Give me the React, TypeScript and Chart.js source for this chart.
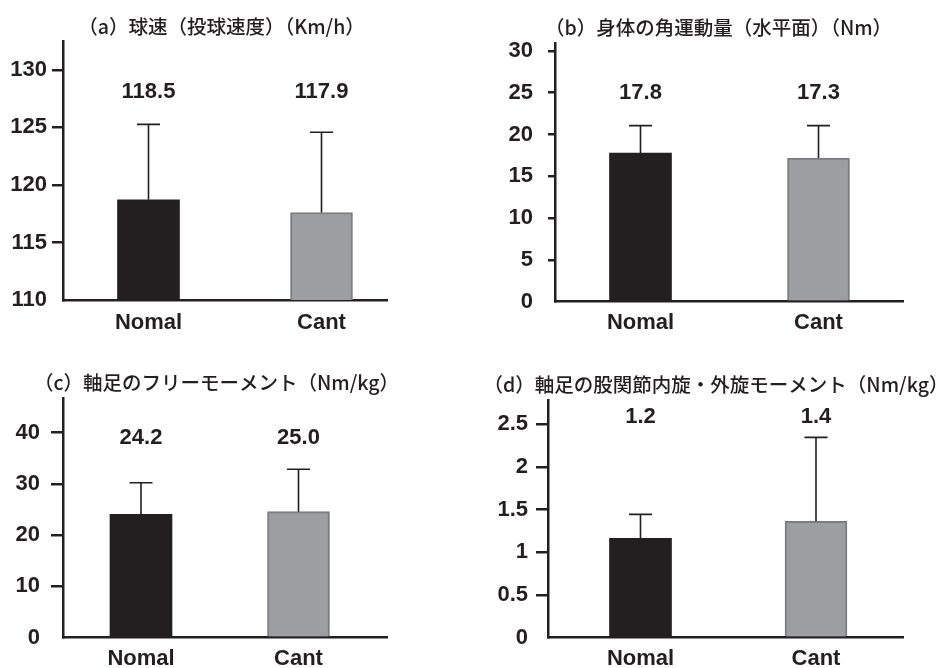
import React, { useEffect, useRef } from 'react';
import { Chart, registerables } from 'chart.js';

Chart.register(...registerables);

// ---------- data ----------
const categories = ['Nomal', 'Cant'];
const categoryPositions = [1, 2];

const speedTitle = '（a）球速（投球速度）（Km/h）';
const speedMeans = [118.7, 117.6];
const speedSD = [6.56, 6.97];
const speedLabels = ['118.5', '117.9'];
const speedTicks = [110, 115, 120, 125, 130];
const speedTickLabels = ['110', '115', '120', '125', '130'];

const momentumTitle = '（b）身体の角運動量（水平面）（Nm）';
const momentumMeans = [17.78, 17.18];
const momentumSD = [3.27, 3.87];
const momentumLabels = ['17.8', '17.3'];
const momentumTicks = [0, 5, 10, 15, 20, 25, 30];
const momentumTickLabels = ['0', '5', '10', '15', '20', '25', '30'];

const freeTitle = '（c）軸足のフリーモーメント（Nm/kg）';
const freeMeans = [24.07, 24.58];
const freeSD = [6.17, 8.27];
const freeLabels = ['24.2', '25.0'];
const freeTicks = [0, 10, 20, 30, 40];
const freeTickLabels = ['0', '10', '20', '30', '40'];

const hipTitle = '（d）軸足の股関節内旋・外旋モーメント（Nm/kg）';
const hipMeans = [1.164, 1.364];
const hipSD = [0.281, 0.983];
const hipLabels = ['1.2', '1.4'];
const hipTicks = [0, 0.5, 1, 1.5, 2, 2.5];
const hipTickLabels = ['0', '0.5', '1', '1.5', '2', '2.5'];

// ---------- styles ----------
const INK = '#231f20';
const barFills = ['#231f20', '#9d9ea2'];
const barEdges = ['#231f20', '#7c7d81'];
const barEdgeWidths = [0, 2];
const NUM_FONT = '"Liberation Sans", Arial, sans-serif';
const TITLE_FONT = '"Noto Sans CJK JP", "Noto Sans", sans-serif';

type Panel = {
  key: string;
  title: string;
  means: number[];
  sd: number[];
  labels: string[];
  ticks: number[];
  tickLabels: string[];
  yMin: number;
  yMax: number;
  xMin: number;
  xMax: number;
  box: { left: number; top: number; width: number; height: number };
  padTop: number;
  padRight: number;
  yAxisWidth: number;
  xAxisHeight: number;
  tickLength: number;
  tickPad: number;
  xLabelPad: number;
  labelDy: number;
  titleDx: number;
  titleDy: number;
};

const panels: Panel[] = [
  {
    key: 'a', title: speedTitle, means: speedMeans, sd: speedSD, labels: speedLabels,
    ticks: speedTicks, tickLabels: speedTickLabels, yMin: 110, yMax: 132.5,
    xMin: 0.5058, xMax: 2.3786,
    box: { left: 0, top: 0, width: 468, height: 345 },
    padTop: 41, padRight: 81, yAxisWidth: 63, xAxisHeight: 45,
    tickLength: 11, tickPad: 5, xLabelPad: 1.5, labelDy: 51, titleDx: -3.5, titleDy: -14,
  },
  {
    key: 'b', title: momentumTitle, means: momentumMeans, sd: momentumSD, labels: momentumLabels,
    ticks: momentumTicks, tickLabels: momentumTickLabels, yMin: 0, yMax: 30.9,
    xMin: 0.5197, xMax: 2.4747,
    box: { left: 468, top: 0, width: 469, height: 345 },
    padTop: 43.3, padRight: 34, yAxisWidth: 87, xAxisHeight: 43.3,
    tickLength: 7, tickPad: 15, xLabelPad: 0.5, labelDy: 50, titleDx: -10.5, titleDy: -16,
  },
  {
    key: 'c', title: freeTitle, means: freeMeans, sd: freeSD, labels: freeLabels,
    ticks: freeTicks, tickLabels: freeTickLabels, yMin: 0, yMax: 46.7,
    xMin: 0.5048, xMax: 2.5619,
    box: { left: 0, top: 345, width: 468, height: 323 },
    padTop: 53.3, padRight: 81, yAxisWidth: 63, xAxisHeight: 30.3,
    tickLength: 12, tickPad: 11, xLabelPad: 0.5, labelDy: 40, titleDx: -8.5, titleDy: -15.3,
  },
  {
    key: 'd', title: hipTitle, means: hipMeans, sd: hipSD, labels: hipLabels,
    ticks: hipTicks, tickLabels: hipTickLabels, yMin: 0, yMax: 2.776,
    xMin: 0.473, xMax: 2.4957,
    box: { left: 468, top: 345, width: 469, height: 323 },
    padTop: 55.7, padRight: 34, yAxisWidth: 80, xAxisHeight: 30.3,
    tickLength: 12, tickPad: 8, xLabelPad: 0.5, labelDy: 16, titleDx: -9.5, titleDy: -15.7,
  },
];

const annotatePlugin = {
  id: 'annotate',
  afterDatasetsDraw(chart: any, _args: any, opts: any) {
    const { ctx, chartArea } = chart;
    const yScale = chart.scales.y;
    const meta = chart.getDatasetMeta(0);
    ctx.save();
    ctx.strokeStyle = INK;
    ctx.lineWidth = 1.6;
    ctx.fillStyle = INK;
    ctx.textAlign = 'center';
    ctx.textBaseline = 'middle';
    ctx.font = `bold 22px ${NUM_FONT}`;
    meta.data.forEach((bar: any, i: number) => {
      const top = yScale.getPixelForValue(opts.means[i] + opts.sd[i]);
      ctx.beginPath();
      ctx.moveTo(bar.x, bar.y);
      ctx.lineTo(bar.x, top);
      ctx.moveTo(bar.x - 11.5, top);
      ctx.lineTo(bar.x + 11.5, top);
      ctx.stroke();
      ctx.fillText(opts.labels[i], bar.x, chartArea.top + opts.labelDy);
    });
    ctx.font = `500 19.5px ${TITLE_FONT}`;
    ctx.fillText(
      opts.title,
      (chartArea.left + chartArea.right) / 2 + opts.titleDx,
      chartArea.top + opts.titleDy
    );
    ctx.restore();
  },
};

function BarPanel({ p }: { p: Panel }) {
  const ref = useRef<HTMLCanvasElement>(null);
  useEffect(() => {
    if (!ref.current) return;
    const chart = new Chart(ref.current, {
      type: 'bar',
      data: {
        datasets: [
          {
            data: p.means.map((v, i) => ({ x: categoryPositions[i], y: v })),
            backgroundColor: barFills,
            borderColor: barEdges,
            borderWidth: barEdgeWidths,
            barThickness: 62,
          } as any,
        ],
      },
      options: {
        animation: false,
        responsive: false,
        events: [],
        layout: { padding: { top: p.padTop, right: p.padRight, left: 0, bottom: 0 } },
        plugins: {
          legend: { display: false },
          tooltip: { enabled: false },
          annotate: {
            means: p.means, sd: p.sd, labels: p.labels, title: p.title,
            labelDy: p.labelDy, titleDx: p.titleDx, titleDy: p.titleDy,
          },
        } as any,
        scales: {
          x: {
            type: 'linear',
            min: p.xMin,
            max: p.xMax,
            offset: false,
            afterBuildTicks: (s: any) => {
              s.ticks = categoryPositions.map((v) => ({ value: v }));
            },
            afterFit: (s: any) => {
              s.height = p.xAxisHeight;
            },
            grid: { display: false },
            border: { display: true, color: INK, width: 2.5 },
            ticks: {
              autoSkip: false,
              maxRotation: 0,
              padding: p.xLabelPad,
              color: INK,
              font: { family: NUM_FONT, size: 22, weight: 'bold' },
              callback: (_v: any, i: number) => categories[i],
            },
          },
          y: {
            type: 'linear',
            min: p.yMin,
            max: p.yMax,
            afterBuildTicks: (s: any) => {
              s.ticks = p.ticks.map((v) => ({ value: v }));
            },
            afterFit: (s: any) => {
              s.width = p.yAxisWidth;
            },
            grid: {
              drawOnChartArea: false,
              drawTicks: true,
              tickLength: p.tickLength,
              lineWidth: 2.5,
              color: (c: any) => (c.index === 0 ? 'rgba(0,0,0,0)' : INK),
            },
            border: { display: true, color: INK, width: 2.5 },
            ticks: {
              padding: p.tickPad,
              color: INK,
              font: { family: NUM_FONT, size: 22, weight: 'bold' },
              callback: (_v: any, i: number) => p.tickLabels[i],
            },
          },
        } as any,
      },
      plugins: [annotatePlugin],
    } as any);
    return () => chart.destroy();
  }, [p]);
  return (
    <div
      style={{
        position: 'absolute',
        left: p.box.left,
        top: p.box.top,
        width: p.box.width,
        height: p.box.height,
      }}
    >
      <canvas ref={ref} width={p.box.width} height={p.box.height} style={{ display: 'block' }} />
    </div>
  );
}

export default function App() {
  return (
    <div
      style={{
        position: 'fixed',
        left: 0,
        top: 0,
        width: 937,
        height: 668,
        background: '#ffffff',
        overflow: 'hidden',
      }}
    >
      {panels.map((p) => (
        <BarPanel key={p.key} p={p} />
      ))}
    </div>
  );
}
